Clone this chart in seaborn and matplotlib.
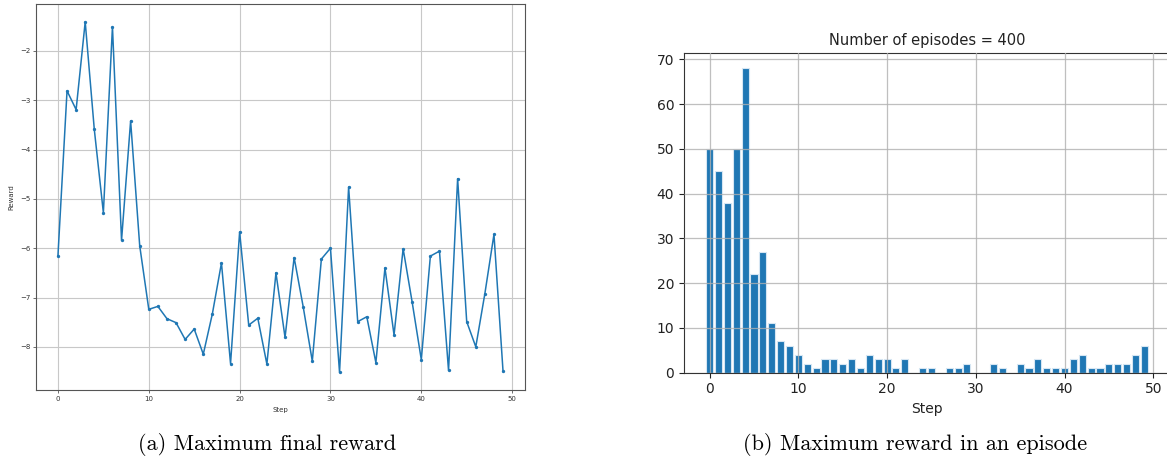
import numpy as np
import pandas as pd
import matplotlib
matplotlib.use("Agg")
import matplotlib.pyplot as plt
import seaborn as sns

# ---- data ----
steps = list(range(50))
final_reward = [-6.15, -2.81, -3.19, -1.41, -3.59, -5.28, -1.51, -5.84, -3.42, -5.95,
                -7.24, -7.18, -7.43, -7.51, -7.85, -7.64, -8.15, -7.33, -6.30, -8.34,
                -5.67, -7.56, -7.42, -8.35, -6.50, -7.81, -6.19, -7.19, -8.29, -6.22,
                -6.00, -8.52, -4.76, -7.49, -7.39, -8.32, -6.40, -7.76, -6.01, -7.10,
                -8.26, -6.16, -6.06, -8.48, -4.59, -7.49, -8.00, -6.92, -5.72, -8.50]
episode_counts = [50, 45, 38, 50, 68, 22, 27, 11, 7, 6,
                  4, 2, 1, 3, 3, 2, 3, 1, 4, 3,
                  3, 1, 3, 0, 1, 1, 0, 1, 1, 2,
                  0, 0, 2, 1, 0, 2, 1, 3, 1, 1,
                  1, 3, 4, 1, 1, 2, 2, 2, 4, 6]
title_b = "Number of episodes = 400"
caption_a = "(a) Maximum final reward"
caption_b = "(b) Maximum reward in an episode"

W, H = 1167, 462
fig = plt.figure(figsize=(W / 100, H / 100), dpi=100)

blue = "#1f77b4"

# ---- left panel ----
axL = fig.add_axes([35.7 / W, 1 - 390 / H, 489.6 / W, 385.7 / H])
sns.lineplot(x=steps, y=final_reward, ax=axL, color=blue, linewidth=1.1,
             marker="o", markersize=2.4, markeredgewidth=0)
axL.grid(True, color="#c8c8c8", linewidth=0.8)
axL.set_axisbelow(True)
axL.tick_params(labelsize=5, length=2, width=0.5, colors="#333333", pad=2)
axL.set_xlabel("Step", fontsize=5, color="#333333", labelpad=4)
axL.set_ylabel("Reward", fontsize=5, color="#333333", labelpad=4)
for s in axL.spines.values():
    s.set_color("#555555")
    s.set_linewidth(0.8)
axL.set_xticks([0, 10, 20, 30, 40, 50])
axL.set_yticks([-2, -3, -4, -5, -6, -7, -8])
axL.set_yticklabels(["\u22122", "\u22123", "\u22124", "\u22125", "\u22126", "\u22127", "\u22128"])

# ---- right panel ----
axR = fig.add_axes([684 / W, 1 - 372.7 / H, (1170 - 684) / W, (372.7 - 53) / H])
df = pd.DataFrame({"Step": steps, "Count": episode_counts})
sns.barplot(data=df, x="Step", y="Count", ax=axR, native_scale=True,
            color=blue, saturation=1, width=0.8, edgecolor="#d6e6f3", linewidth=0.8)
axR.grid(True, color="#b0b0b0", linewidth=0.9, alpha=0.8)
axR.set_axisbelow(False)
axR.set_xlim(-2.89, 51.89)
axR.set_ylim(0, 71.4)
axR.set_xticks([0, 10, 20, 30, 40, 50])
axR.set_yticks([0, 10, 20, 30, 40, 50, 60, 70])
axR.tick_params(labelsize=10, length=3.5, width=0.8, colors="#222222")
axR.set_xlabel("Step", fontsize=10, color="#222222")
axR.set_ylabel("")
axR.set_title(title_b, fontsize=10.5, color="#222222", pad=6)
for s in axR.spines.values():
    s.set_color("#333333")

# ---- captions ----
fig.text(267 / W, 1 - 445 / H, caption_a, ha="center", va="center",
         fontsize=16, family="cmr10")
fig.text(915 / W, 1 - 445 / H, caption_b, ha="center", va="center",
         fontsize=16, family="cmr10")

fig.savefig("out.png", dpi=100)
